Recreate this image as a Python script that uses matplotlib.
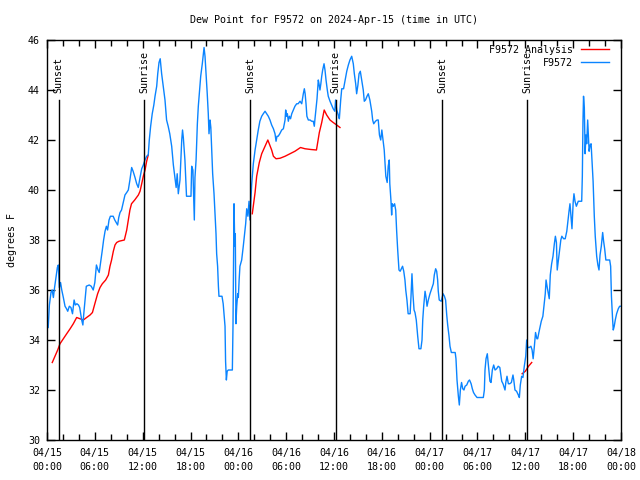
import matplotlib
matplotlib.use("Agg")
import matplotlib.pyplot as plt

# F9572 observed dew point, hours after 04/15 00:00 UTC
obs_hours = [0.15, 0.3, 0.5, 0.65, 0.8, 0.95, 1.13, 1.3, 1.42, 1.55, 1.7, 1.85, 2.05, 2.26, 2.45, 2.6, 2.8, 3.0, 3.2, 3.4,
             3.55, 3.75, 3.95, 4.1, 4.35, 4.5, 4.6, 4.77, 4.93, 5.3, 5.55, 5.8, 6.0, 6.2, 6.4, 6.55, 6.77, 6.94, 7.1, 7.28,
             7.45, 7.6, 7.78, 7.95, 8.3, 8.5, 8.86, 9.0, 9.16, 9.35, 9.57, 9.78, 10.0, 10.2, 10.4, 10.62, 10.8, 11.04, 11.25, 11.45,
             11.67, 11.88, 12.08, 12.29, 12.5, 12.7, 12.83, 13.0, 13.2, 13.4, 13.55, 13.76, 13.89, 14.05, 14.2, 14.38, 14.6, 14.8, 15.0, 15.2,
             15.4, 15.64, 15.85, 16.05, 16.2, 16.33, 16.47, 16.68, 16.9, 17.0, 17.1, 17.3, 17.44, 17.5, 18.06, 18.15, 18.3, 18.48, 18.56, 18.7,
             18.86, 18.98, 19.1, 19.28, 19.48, 19.7, 19.82, 19.95, 20.1, 20.23, 20.32, 20.45, 20.55, 20.66, 20.78, 20.95, 21.07, 21.2, 21.28, 21.4,
             21.5, 21.57, 21.95, 22.1, 22.33, 22.4, 22.5, 22.6, 22.74, 23.25, 23.33, 23.46, 23.55, 23.62, 23.7, 23.8, 23.92, 24.0, 24.1, 24.2,
             24.42, 24.62, 24.75, 24.92, 25.05, 25.2, 25.34, 25.45, 25.68, 25.88, 26.1, 26.3, 26.5, 26.7, 26.93, 27.13, 27.35, 27.55, 27.76, 27.97,
             28.18, 28.4, 28.6, 28.73, 28.85, 29.0, 29.2, 29.44, 29.65, 29.86, 29.94, 30.05, 30.15, 30.27, 30.4, 30.55, 30.7, 30.9, 31.1, 31.32,
             31.5, 31.74, 31.95, 32.15, 32.28, 32.38, 32.49, 32.6, 32.78, 33.0, 33.2, 33.4, 33.53, 33.6, 33.74, 33.87, 34.03, 34.12, 34.24, 34.35,
             34.46, 34.58, 34.75, 34.87, 35.0, 35.16, 35.28, 35.5, 35.7, 35.9, 36.1, 36.2, 36.34, 36.54, 36.67, 36.84, 36.97, 37.2, 37.4, 37.6,
             37.8, 38.0, 38.22, 38.42, 38.55, 38.72, 38.84, 39.0, 39.14, 39.3, 39.47, 39.67, 39.8, 39.95, 40.14, 40.3, 40.5, 40.73, 40.85, 40.98,
             41.2, 41.4, 41.55, 41.7, 41.86, 42.0, 42.15, 42.3, 42.4, 42.5, 42.67, 42.8, 42.93, 43.0, 43.15, 43.23, 43.3, 43.45, 43.6, 43.74,
             43.86, 43.99, 44.15, 44.3, 44.45, 44.6, 44.75, 44.9, 45.0, 45.15, 45.3, 45.55, 45.66, 45.78, 45.9, 46.04, 46.16, 46.32, 46.5, 46.66,
             46.9, 47.04, 47.13, 47.25, 47.42, 47.55, 47.67, 47.83, 48.04, 48.25, 48.46, 48.58, 48.75, 48.88, 49.0, 49.08, 49.2, 49.45, 49.68, 49.85,
             50.0, 50.14, 50.26, 50.43, 50.55, 50.72, 51.2, 51.3, 51.43, 51.6, 51.72, 51.85, 52.0, 52.15, 52.3, 52.44, 52.65, 52.85, 53.0, 53.2,
             53.35, 53.5, 53.69, 53.94, 54.73, 54.86, 54.94, 55.07, 55.23, 55.4, 55.56, 55.7, 55.86, 56.03, 56.2, 56.4, 56.6, 56.8, 57.04, 57.2,
             57.45, 57.55, 57.7, 57.87, 58.05, 58.25, 58.45, 58.55, 58.7, 58.9, 59.12, 59.25, 59.37, 59.54, 59.7, 59.87, 60.05, 60.17, 60.3, 60.5,
             60.7, 60.85, 60.98, 61.12, 61.28, 61.45, 61.55, 61.7, 61.87, 62.0, 62.2, 62.37, 62.5, 62.6, 62.75, 63.0, 63.13, 63.3, 63.47, 63.64,
             63.77, 63.9, 64.0, 64.15, 64.3, 64.45, 64.58, 64.8, 65.0, 65.2, 65.3, 65.48, 65.6, 65.77, 65.85, 66.0, 66.1, 66.23, 66.4, 66.64,
             67.07, 67.15, 67.23, 67.3, 67.4, 67.5, 67.6, 67.7, 67.82, 67.9, 68.0, 68.13, 68.25, 68.36, 68.5, 68.65, 68.77, 68.95, 69.1, 69.24,
             69.37, 69.53, 69.7, 69.82, 69.95, 70.1, 70.58, 70.7, 70.8, 70.95, 71.03, 71.15, 71.28, 71.45, 71.66, 71.83, 72.0]
obs_dewpt = [34.5, 35.4, 35.9, 36.0, 35.7, 36.1, 36.5, 36.9, 37.0, 36.1, 36.3, 36.0, 35.7, 35.35, 35.25, 35.15, 35.35, 35.3, 35.05, 35.6,
             35.4, 35.45, 35.4, 35.3, 34.8, 34.6, 35.0, 35.6, 36.15, 36.2, 36.15, 36.0, 36.3, 37.0, 36.8, 36.7, 37.2, 37.6, 38.0, 38.35,
             38.55, 38.4, 38.8, 38.95, 38.95, 38.8, 38.6, 38.9, 39.1, 39.2, 39.5, 39.8, 39.9, 40.0, 40.4, 40.9, 40.75, 40.5, 40.25, 40.1,
             40.5, 40.85, 41.0, 41.2, 41.35, 41.4, 42.0, 42.55, 43.05, 43.4, 43.75, 44.15, 44.65, 45.1, 45.25, 44.65, 44.1, 43.6, 42.8, 42.55,
             42.25, 41.75, 41.0, 40.5, 40.1, 40.65, 39.85, 40.4, 42.0, 42.4, 42.1, 41.2, 40.25, 39.75, 39.75, 40.95, 40.8, 38.8, 40.5, 41.2,
             42.65, 43.35, 43.85, 44.55, 45.05, 45.7, 45.35, 44.65, 43.85, 43.05, 42.25, 42.8, 42.5, 41.6, 40.65, 39.85, 39.05, 38.25, 37.45, 36.95,
             36.15, 35.75, 35.75, 35.45, 34.55, 33.15, 32.4, 32.75, 32.8, 32.8, 34.55, 39.45, 37.75, 38.25, 34.65, 35.35, 35.85, 35.7, 36.4, 36.95,
             37.2, 37.75, 38.15, 38.65, 39.25, 38.95, 39.55, 38.8, 40.25, 41.05, 41.6, 42.0, 42.4, 42.75, 42.95, 43.05, 43.15, 43.05, 42.95, 42.8,
             42.6, 42.45, 42.25, 41.95, 42.15, 42.15, 42.25, 42.4, 42.45, 42.8, 43.2, 42.95, 43.05, 42.75, 42.95, 42.85, 43.05, 43.2, 43.35, 43.45,
             43.45, 43.55, 43.45, 43.85, 44.05, 43.85, 43.45, 42.95, 42.8, 42.8, 42.75, 42.75, 42.55, 42.8, 43.25, 43.65, 44.4, 44.25, 44.0, 44.25,
             44.55, 44.8, 45.05, 44.8, 44.4, 44.0, 43.75, 43.55, 43.4, 43.25, 43.15, 43.6, 43.2, 43.0, 42.85, 43.6, 44.05, 44.05, 44.4, 44.75,
             45.0, 45.2, 45.35, 45.05, 44.65, 44.25, 43.85, 44.2, 44.65, 44.75, 44.4, 44.0, 43.55, 43.6, 43.75, 43.85, 43.6, 43.15, 42.8, 42.65,
             42.75, 42.8, 42.8, 42.2, 42.0, 42.4, 42.0, 41.6, 41.05, 40.55, 40.3, 40.95, 41.2, 40.25, 39.55, 39.0, 39.45, 39.35, 39.45, 39.2,
             38.35, 37.6, 36.8, 36.75, 36.85, 36.95, 36.75, 36.4, 36.0, 35.6, 35.05, 35.05, 35.75, 36.65, 35.85, 35.2, 35.1, 34.8, 34.15, 33.65,
             33.65, 34.0, 34.8, 35.35, 35.95, 35.7, 35.35, 35.6, 35.85, 36.05, 36.25, 36.6, 36.85, 36.75, 36.4, 35.95, 35.6, 35.55, 35.85, 35.75,
             35.6, 35.0, 34.6, 34.15, 33.75, 33.5, 33.5, 33.25, 32.4, 31.75, 31.4, 32.0, 32.3, 32.05, 32.0, 32.15, 32.2, 32.35, 32.4, 32.25,
             32.05, 31.9, 31.8, 31.7, 31.7, 32.0, 32.8, 33.25, 33.45, 32.9, 32.35, 32.3, 32.8, 33.0, 32.8, 32.85, 32.95, 32.9, 32.35, 32.25,
             32.0, 32.3, 32.55, 32.25, 32.25, 32.3, 32.6, 32.4, 32.0, 31.95, 31.8, 31.7, 32.2, 32.55, 32.5, 32.95, 33.35, 34.0, 33.7, 33.7,
             33.75, 33.6, 33.25, 33.7, 34.3, 34.05, 34.05, 34.3, 34.55, 34.75, 34.95, 35.45, 35.85, 36.4, 36.1, 35.65, 36.6, 37.05, 37.35, 37.85,
             38.15, 37.9, 36.8, 37.2, 37.6, 38.0, 38.15, 38.05, 38.05, 38.35, 38.65, 39.15, 39.45, 38.8, 38.45, 39.5, 39.85, 39.55, 39.35, 39.55,
             39.55, 40.55, 42.75, 43.75, 43.3, 41.45, 42.2, 41.85, 42.8, 42.25, 41.55, 41.8, 41.85, 41.2, 40.35, 38.95, 38.15, 37.35, 37.0, 36.8,
             37.4, 37.75, 38.3, 37.95, 37.65, 37.2, 37.2, 36.95, 35.75, 34.8, 34.4, 34.55, 34.8, 35.05, 35.25, 35.35, 35.35]

# F9572 analysis, three separate pieces
ana1_hours = [0.66, 1.0, 1.34, 1.63, 2.05, 2.47, 2.9, 3.3, 3.72, 4.14, 4.56, 4.97, 5.4, 5.7, 6.0, 6.35, 6.65, 6.94, 7.36, 7.7,
              7.9, 8.1, 8.32, 8.53, 8.74, 9.03, 9.7, 10.0, 10.2, 10.4, 10.6, 11.0, 11.46, 11.67, 11.88, 12.08, 12.3, 12.5, 12.7]
ana1_dewpt = [33.1, 33.35, 33.6, 33.85, 34.05, 34.25, 34.45, 34.65, 34.9, 34.85, 34.8, 34.9, 35.0, 35.1, 35.45, 35.85, 36.1, 36.25, 36.4, 36.6,
              36.95, 37.2, 37.55, 37.8, 37.9, 37.95, 38.0, 38.4, 38.8, 39.2, 39.45, 39.6, 39.8, 39.95, 40.25, 40.55, 40.8, 41.15, 41.4]
ana2_hours = [25.75, 26.1, 26.3, 26.63, 26.93, 27.35, 27.7, 28.18, 28.4, 28.73, 29.23, 29.86, 30.48, 31.1, 31.8, 32.36, 33.1, 33.8, 34.16, 34.46,
              34.77, 35.08, 35.5, 35.9, 36.34, 36.75]
ana2_dewpt = [39.05, 39.9, 40.55, 41.1, 41.45, 41.75, 42.0, 41.6, 41.35, 41.25, 41.27, 41.35, 41.45, 41.55, 41.7, 41.65, 41.62, 41.6, 42.3, 42.7,
              43.2, 43.0, 42.8, 42.7, 42.6, 42.5]
ana3_hours = [59.6, 60.0, 60.4, 60.8]
ana3_dewpt = [32.65, 32.75, 32.95, 33.1]

sun_hours = [1.45, 12.22, 25.5, 36.22, 49.57, 60.2]
sun_names = ["Sunset", "Sunrise", "Sunset", "Sunrise", "Sunset", "Sunrise"]
sun_top = 43.6

tick_hours = [0, 6, 12, 18, 24, 30, 36, 42, 48, 54, 60, 66, 72]
tick_labels = ["04/15\n00:00", "04/15\n06:00", "04/15\n12:00", "04/15\n18:00", "04/16\n00:00", "04/16\n06:00",
               "04/16\n12:00", "04/16\n18:00", "04/17\n00:00", "04/17\n06:00", "04/17\n12:00", "04/17\n18:00",
               "04/18\n00:00"]
y_ticks = [30, 32, 34, 36, 38, 40, 42, 44, 46]

plt.rcParams['font.family'] = ['DejaVu Sans Mono']
plt.rcParams['font.size'] = 7.2

fig = plt.figure(figsize=(6.4, 4.8), dpi=100)
ax = fig.add_axes([47/640, 40/480, 574/640, 400/480])

blue = '#0a84ff'
ax.plot(ana1_hours, ana1_dewpt, color='red', lw=1, label='F9572 Analysis')
ax.plot(ana2_hours, ana2_dewpt, color='red', lw=1)
ax.plot(ana3_hours, ana3_dewpt, color='red', lw=1)
ax.plot(obs_hours, obs_dewpt, color=blue, lw=1, label='F9572')

for h, name in zip(sun_hours, sun_names):
    ax.plot([h, h], [30, sun_top], color='black', lw=1)
    ax.text(h, sun_top + 0.28, name, rotation=90, ha='center', va='bottom')

ax.set_xlim(0, 72)
ax.set_ylim(30, 46)
ax.set_xticks(tick_hours)
ax.set_xticklabels(tick_labels, linespacing=1.45)
ax.set_xticks(range(0, 73, 2), minor=True)
ax.set_yticks(y_ticks)
ax.tick_params(direction='in', top=True, right=True, length=6, width=1, pad=5)
ax.tick_params(axis='x', pad=6)
ax.tick_params(which='minor', direction='in', top=True, bottom=True, length=4, width=1)
for s in ax.spines.values():
    s.set_linewidth(1)

ax.set_ylabel('degrees F', labelpad=8)
ax.set_title('Dew Point for F9572 on 2024-Apr-15 (time in UTC)', fontsize=7.2, pad=12)

ax.legend(loc='upper right', bbox_to_anchor=(1 - 3/574, 1 + 4/400), frameon=False, markerfirst=False,
          handlelength=2.8, handletextpad=0.8, labelspacing=0.3, borderaxespad=0.6, borderpad=0.3)

fig.savefig('out.png', dpi=100)
